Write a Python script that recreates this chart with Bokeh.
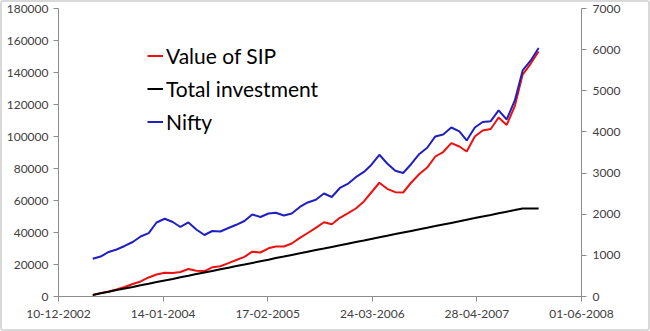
import pandas as pd
from bokeh.plotting import figure
from bokeh.models import (Range1d, LinearAxis, FixedTicker, DatetimeTickFormatter,
                          BasicTickFormatter, Legend)
from bokeh.embed import file_html
from bokeh.resources import INLINE

# ---------------- data ----------------
dates = [
    "2003-04-20", "2003-05-20", "2003-06-20", "2003-07-20", "2003-08-20", "2003-09-20",
    "2003-10-20", "2003-11-20", "2003-12-20", "2004-01-20", "2004-02-20", "2004-03-20",
    "2004-04-20", "2004-05-20", "2004-06-20", "2004-07-20", "2004-08-20", "2004-09-20",
    "2004-10-20", "2004-11-20", "2004-12-20", "2005-01-20", "2005-02-20", "2005-03-20",
    "2005-04-20", "2005-05-20", "2005-06-20", "2005-07-20", "2005-08-20", "2005-09-20",
    "2005-10-20", "2005-11-20", "2005-12-20", "2006-01-20", "2006-02-20", "2006-03-20",
    "2006-04-20", "2006-05-20", "2006-06-20", "2006-07-20", "2006-08-20", "2006-09-20",
    "2006-10-20", "2006-11-20", "2006-12-20", "2007-01-20", "2007-02-20", "2007-03-20",
    "2007-04-20", "2007-05-20", "2007-06-20", "2007-07-20", "2007-08-20", "2007-09-20",
    "2007-10-20", "2007-11-20", "2007-12-20",
]

value_of_sip = [
    1000, 2100, 3100, 4400, 5900, 7800, 9400, 11900, 13750, 14800, 14700, 15300,
    17200, 16100, 15900, 18250, 18900, 20900, 22800, 24800, 28000, 27500, 30100, 31250,
    31250, 33100, 36600, 39700, 42900, 46400, 45100, 49200, 51900, 55000, 59400, 65000,
    71100, 67300, 65200, 65000, 71250, 76600, 80600, 87500, 90300, 95900, 93750, 90600,
    100000, 103750, 104700, 111900, 107200, 119000, 138700, 145600, 153100,
]

total_investment = [
    1000, 2000, 3000, 4000, 5000, 6000, 7000, 8000, 9000, 10000, 11000, 12000,
    13000, 14000, 15000, 16000, 17000, 18000, 19000, 20000, 21000, 22000, 23000, 24000,
    25000, 26000, 27000, 28000, 29000, 30000, 31000, 32000, 33000, 34000, 35000, 36000,
    37000, 38000, 39000, 40000, 41000, 42000, 43000, 44000, 45000, 46000, 47000, 48000,
    49000, 50000, 51000, 52000, 53000, 54000, 55000, 55000, 55000,
]

nifty = [
    917, 972, 1082, 1143, 1228, 1325, 1459, 1539, 1799, 1889, 1811, 1690,
    1799, 1629, 1495, 1592, 1580, 1665, 1743, 1835, 1993, 1933, 2018, 2035,
    1969, 2018, 2176, 2285, 2351, 2504, 2419, 2638, 2735, 2900, 3027, 3197,
    3445, 3233, 3056, 3002, 3221, 3464, 3615, 3890, 3938, 4108, 4011, 3792,
    4108, 4242, 4262, 4522, 4303, 4765, 5494, 5737, 6041,
]

x_ticks = ["2002-12-10", "2004-01-14", "2005-02-17", "2006-03-24", "2007-04-28", "2008-06-01"]
left_ticks = [0, 20000, 40000, 60000, 80000, 100000, 120000, 140000, 160000, 180000]
right_ticks = [0, 1000, 2000, 3000, 4000, 5000, 6000, 7000]

series_labels = ["Value of SIP", "Total investment", "Nifty"]

# ---------------- figure ----------------
x = pd.to_datetime(dates)
xt = pd.to_datetime(x_ticks)
xt_ms = [int(t.value // 10**6) for t in xt]

FONT = "Lato"
LABEL_COLOR = "#404040"
AXIS_COLOR = "#8c8c8c"

p = figure(width=650, height=331, output_backend="svg", toolbar_location=None,
           x_axis_type="datetime",
           x_range=Range1d(xt[0], xt[-1]), y_range=Range1d(0, 180000),
           min_border_left=58, min_border_right=69, min_border_top=8, min_border_bottom=35)
p.extra_y_ranges = {"nifty": Range1d(0, 7000)}

p.outline_line_color = None
p.grid.visible = False
p.background_fill_color = "white"
p.border_fill_color = None
p.styles = {"box-shadow": "inset 0 0 0 2px #d9d9d9", "border-radius": "3px",
            "background-color": "white"}

r_sip = p.line(x, value_of_sip, line_color="#ee1111", line_width=2)
r_inv = p.line(x, total_investment, line_color="black", line_width=2)
r_nif = p.line(x, nifty, line_color="#2020c0", line_width=2, y_range_name="nifty")

# axes
xa = p.xaxis[0]
xa.ticker = FixedTicker(ticks=xt_ms)
fmt = "%d-%m-%Y"
xa.formatter = DatetimeTickFormatter(milliseconds=fmt, seconds=fmt, minsec=fmt, minutes=fmt,
                                     hourmin=fmt, hours=fmt, days=fmt, months=fmt, years=fmt)
xa.major_label_standoff = 8

ya = p.yaxis[0]
ya.ticker = FixedTicker(ticks=left_ticks)
ya.formatter = BasicTickFormatter(use_scientific=False)
ya.major_label_standoff = 5

ra = LinearAxis(y_range_name="nifty", ticker=FixedTicker(ticks=right_ticks),
                formatter=BasicTickFormatter(use_scientific=False))
ra.major_label_standoff = 6
p.add_layout(ra, "right")

for ax in [xa, ya, ra]:
    ax.axis_line_color = AXIS_COLOR
    ax.major_tick_line_color = AXIS_COLOR
    ax.minor_tick_line_color = None
    ax.major_tick_in = 0
    ax.major_tick_out = 5
    ax.major_label_text_font = FONT
    ax.major_label_text_font_size = "12px"
    ax.major_label_text_color = LABEL_COLOR

# legend
legend = Legend(items=[(series_labels[0], [r_sip]), (series_labels[1], [r_inv]), (series_labels[2], [r_nif])],
                location=(89, 162))
legend.label_text_font = FONT
legend.label_text_font_size = "21px"
legend.label_text_color = "black"
legend.glyph_width = 16
legend.glyph_height = 25
legend.label_height = 25
legend.label_standoff = 3
legend.spacing = 8
legend.padding = 0
legend.margin = 0
legend.border_line_color = None
legend.background_fill_alpha = 0
p.add_layout(legend, "center")

open("out.html", "w").write(file_html(p, INLINE))
